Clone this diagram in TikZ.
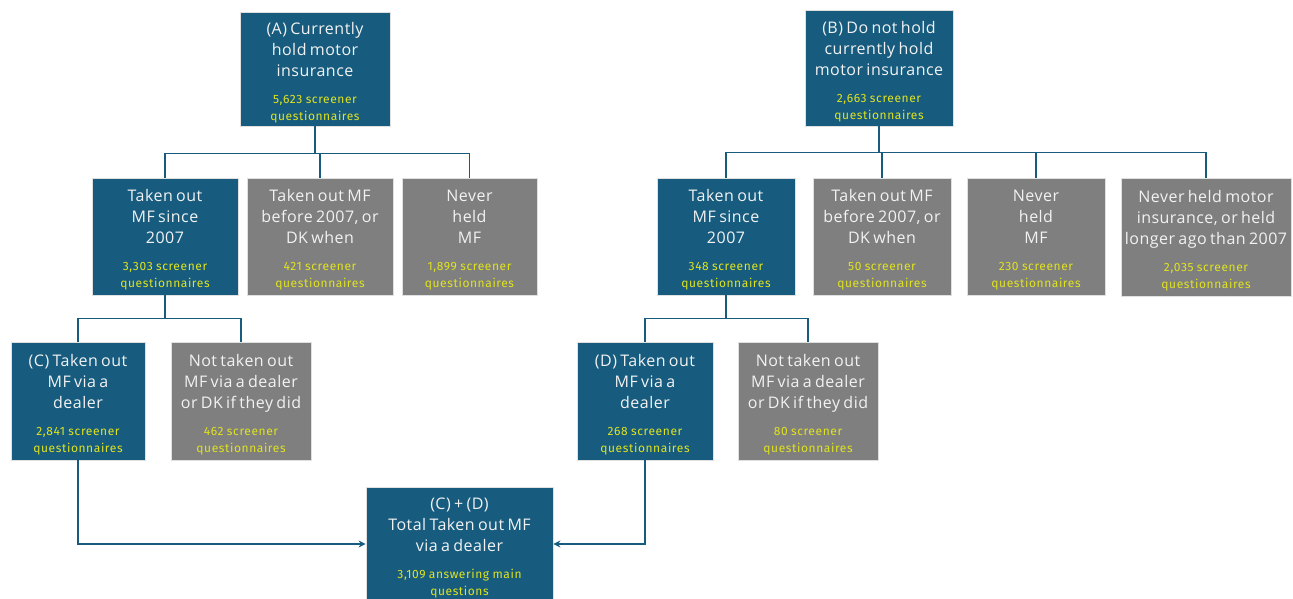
\documentclass[tikz,border=0pt]{standalone}
\usepackage{fontspec}
\setmainfont[LetterSpace=3]{Open Sans}
\newfontfamily\cntfont[LetterSpace=5]{Fira Sans}
\usetikzlibrary{arrows.meta,calc}
\definecolor{boxblue}{HTML}{175C7F}
\definecolor{boxgray}{HTML}{7F7F7F}
\definecolor{cnt}{HTML}{E0E31E}
\definecolor{txt}{HTML}{F2F2F2}
\newcommand\boxtxt[2]{\vskip -2pt{\fontsize{16}{21}\selectfont #1\par}\vskip 10pt{\cntfont\fontsize{12}{17}\selectfont\color{cnt}#2\par}}
\tikzset{
 boxbase/.style={rectangle, draw=black!12, line width=0.8pt, text=txt, align=center, inner sep=0pt},
 bluebox/.style={boxbase, fill=boxblue},
 graybox/.style={boxbase, fill=boxgray},
 sz/.style n args={2}{minimum width=#1pt, minimum height=#2pt, text width=#1pt},
 link/.style={draw=boxblue, line width=1.8pt},
 arr/.style={link, -{Stealth[length=7pt,width=7pt]}}
}
\begin{document}
\begin{tikzpicture}[x=1pt,y=-1pt]
\useasboundingbox (0,0) rectangle (1293,598);
\clip (0,0) rectangle (1293,598);
\fill[white] (0,0) rectangle (1293,598);
% top
\node[bluebox, sz={150}{114}] (A) at (315,69) {\boxtxt{(A) Currently\\hold motor\\insurance}{5,623 screener\\questionnaires}};
\node[bluebox, sz={148}{116}] (B) at (879,68) {\boxtxt{(B) Do not hold\\currently hold\\motor insurance}{2,663 screener\\questionnaires}};
% row 2
\node[bluebox, sz={146}{117}] (A1) at (165,236.5) {\boxtxt{Taken out\\MF since\\2007}{3,303 screener\\questionnaires}};
\node[graybox, sz={146}{117}] (A2) at (320,236.5) {\boxtxt{Taken out MF\\before 2007, or\\DK when}{421 screener\\questionnaires}};
\node[graybox, sz={135}{117}] (A3) at (469.5,236.5) {\boxtxt{Never\\held\\MF}{1,899 screener\\questionnaires}};
\node[bluebox, sz={138}{117}] (B1) at (726,236.5) {\boxtxt{Taken out\\MF since\\2007}{348 screener\\questionnaires}};
\node[graybox, sz={138}{117}] (B2) at (882,236.5) {\boxtxt{Taken out MF\\before 2007, or\\DK when}{50 screener\\questionnaires}};
\node[graybox, sz={138}{117}] (B3) at (1036,236.5) {\boxtxt{Never\\held\\MF}{230 screener\\questionnaires}};
\node[graybox, sz={170}{118}] (B4) at (1206,237) {\boxtxt{Never held motor\\insurance, or held\\longer ago than 2007}{2,035 screener\\questionnaires}};
% row 3
\node[bluebox, sz={134}{118}] (C) at (78,401) {\boxtxt{(C) Taken out\\MF via a\\dealer}{2,841 screener\\questionnaires}};
\node[graybox, sz={140}{118}] (C2) at (241,401) {\boxtxt{Not taken out\\MF via a dealer\\or DK if they did}{462 screener\\questionnaires}};
\node[bluebox, sz={136}{118}] (D) at (645,401) {\boxtxt{(D) Taken out\\MF via a\\dealer}{268 screener\\questionnaires}};
\node[graybox, sz={140}{118}] (D2) at (808,401) {\boxtxt{Not taken out\\MF via a dealer\\or DK if they did}{80 screener\\questionnaires}};
% bottom
\node[bluebox, sz={187}{114}] (E) at (459.5,544) {\boxtxt{(C) + (D)\\Total Taken out MF\\via a dealer}{3,109 answering main\\questions}};
% connectors
\draw[link] (A.south) -- ++(0,27) coordinate (Ab);
\draw[link] (A1.north) |- (Ab) -| (A3.north);
\draw[link] (A2.north) -- (A2.north |- Ab);
\draw[link] (B.south) -- ++(0,26) coordinate (Bb);
\draw[link] (B1.north) |- (Bb) -| (B4.north);
\draw[link] (B2.north) -- (B2.north |- Bb);
\draw[link] (B3.north) -- (B3.north |- Bb);
\draw[link] (A1.south) -- ++(0,23) coordinate (A1b);
\draw[link] (C.north) |- (A1b) -| (C2.north);
\draw[link] (B1.south) -- ++(0,23) coordinate (B1b);
\draw[link] (D.north) |- (B1b) -| (D2.north);
\draw[arr] (C.south) |- (E.west);
\draw[arr] (D.south) |- (E.east);
\end{tikzpicture}
\end{document}
